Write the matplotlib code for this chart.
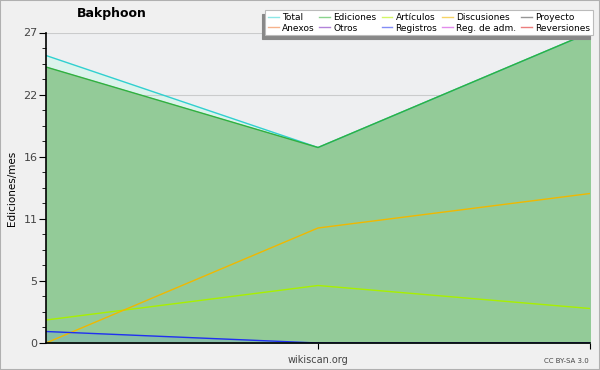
import numpy as np
import matplotlib
matplotlib.use("Agg")
import matplotlib.pyplot as plt
from matplotlib.ticker import FixedLocator, FuncFormatter
from matplotlib.lines import Line2D

# Data (three monthly points)
x_points = [0, 1, 2]
total = [25, 17, 27]
ediciones = [24, 17, 27]
articulos = [2, 5, 3]
discusiones = [0, 10, 13]
registros = [1, 0, 0]

legend_labels = ['Total', 'Ediciones', 'Artículos', 'Discusiones', 'Proyecto',
                 'Anexos', 'Otros', 'Registros', 'Reg. de adm.', 'Reversiones']
legend_colors = ['#40d8d8', '#3cb843', '#b8f000', '#f0b800', '#505050',
                 '#f08040', '#8030c0', '#3040f0', '#d040e0', '#e02828']

fig = plt.figure(figsize=(6, 3.7), dpi=100, facecolor='#f0f0f0')
ax = fig.add_axes([46 / 600, 27 / 370, 544 / 600, 310.5 / 370])
ax.set_facecolor('#eeeff1')

# fills
ax.fill_between(x_points, total, color='#dcf3ec', zorder=1)
ax.fill_between(x_points, ediciones, color='#93cb98', zorder=2)
ax.fill_between(x_points, registros, color='#80b8b0', alpha=0.6, zorder=3)

# lines
ax.plot(x_points, total, color='#30d0d0', lw=1, zorder=5)
ax.plot(x_points, ediciones, color='#30b040', lw=1, zorder=6)
ax.plot(x_points, articulos, color='#a8f000', lw=1, zorder=6)
ax.plot(x_points, discusiones, color='#f0b800', lw=1, zorder=6)
ax.plot(x_points, registros, color='#2030f0', lw=1, zorder=6)

ax.set_xlim(0, 2)
ax.set_ylim(0, 27)

major = np.linspace(0, 27, 6)
ax.yaxis.set_major_locator(FixedLocator(major))
ax.yaxis.set_minor_locator(FixedLocator(np.linspace(0, 27, 21)))
ax.yaxis.set_major_formatter(FuncFormatter(lambda v, p: '%d' % round(v)))
ax.grid(axis='y', which='major', color='#a0a0a0', lw=0.8, alpha=0.45)
for ln in ax.get_ygridlines():
    ln.set_zorder(4)

ax.set_xticks([1, 2])
ax.set_xticklabels(['', ''])
ax.tick_params(axis='y', which='major', length=5, color='black', labelsize=8,
               labelcolor='#444444', pad=1)
ax.tick_params(axis='y', which='minor', length=3, color='black')
ax.tick_params(axis='x', length=4, color='black')

for s in ['top', 'right']:
    ax.spines[s].set_visible(False)
ax.spines['left'].set_linewidth(1.2)
ax.spines['bottom'].set_linewidth(1.2)
ax.spines['left'].set_zorder(10)
ax.spines['bottom'].set_zorder(10)

fig.text(12 / 600, 1 - 188 / 370, 'Ediciones/mes', fontsize=7.5, rotation=90,
         ha='center', va='center')
fig.text(112 / 600, 1 - 14 / 370, 'Bakphoon', fontsize=9, fontweight='bold',
         ha='center', va='center')
fig.text(318 / 600, 1 - 360 / 370, 'wikiscan.org', fontsize=7, color='#444444',
         ha='center', va='center')
fig.text(589 / 600, 1 - 361 / 370, 'CC BY-SA 3.0', fontsize=5, color='#444444',
         ha='right', va='center')

handles = [Line2D([0], [0], color=c, lw=1, alpha=0.6) for c in legend_colors]
order = []
# matplotlib fills legend columns first, so interleave the two rows
for col in range(5):
    order += [col, col + 5]
leg = fig.legend([handles[i] for i in order], [legend_labels[i] for i in order],
                 ncol=5, loc='upper right', bbox_to_anchor=(593 / 600, 1 - 10 / 370),
                 fontsize=6.5, frameon=True, fancybox=False,
                 shadow={'ox': -2, 'oy': -3, 'color': '#888888', 'alpha': 1},
                 handlelength=1.2, handletextpad=0.35, columnspacing=0.55,
                 labelspacing=0.2, borderpad=0.3, borderaxespad=0)
leg.get_frame().set_edgecolor('#bbbbbb')
leg.get_frame().set_linewidth(0.8)

# outer border
fig.patches.append(plt.Rectangle((0, 0), 1, 1, transform=fig.transFigure,
                                 fill=False, edgecolor='#b0b0b0', lw=1.5))

fig.savefig('out.png', dpi=100, facecolor=fig.get_facecolor())
